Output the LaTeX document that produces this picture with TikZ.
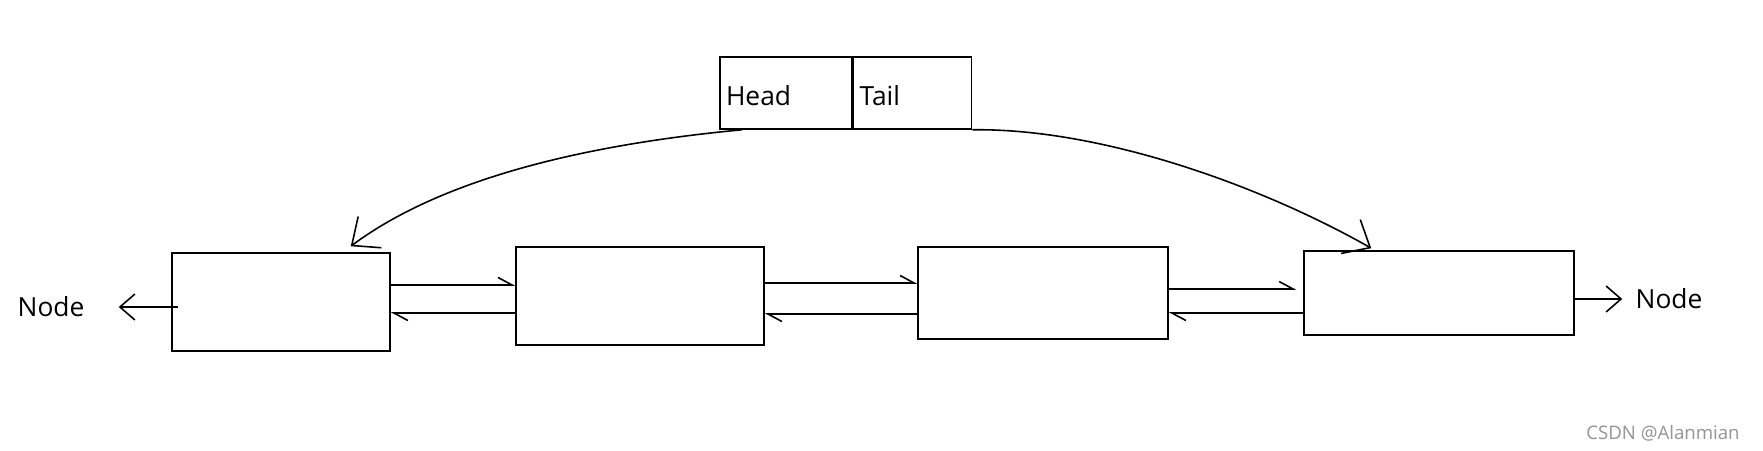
\documentclass[tikz,border=0pt]{standalone}
\usepackage{fontspec}
\setmainfont{Open Sans}
\usetikzlibrary{arrows.meta,calc}

\begin{document}
\begin{tikzpicture}[x=0.02cm, y=-0.02cm,
    cell/.style={rectangle, draw=black, line width=0.9pt, inner sep=0pt},
    part/.style={rectangle, draw=black, line width=0.9pt, minimum height=1.44cm,
                 inner xsep=0.12cm, text height=0.5cm, text depth=0pt,
                 align=left, font=\fontsize{15}{18}\selectfont},
    lbl/.style={font=\fontsize{15}{18}\selectfont, inner sep=0pt},
    link/.style={line width=0.9pt, -{Straight Barb[left, length=0.28cm, width=0.3cm]}},
    ptr/.style={line width=0.9pt, -{Straight Barb[length=0.45cm, width=0.78cm]}},
    endarr/.style={line width=0.9pt, -{Straight Barb[length=0.3cm, width=0.52cm]}}
]
    \useasboundingbox (0,0) rectangle (1763,450);

    % List cells
    \node[cell, minimum width=4.36cm, minimum height=1.96cm] (b1) at (281,302) {};
    \node[cell, minimum width=4.96cm, minimum height=1.96cm] (b2) at (640,296) {};
    \node[cell, minimum width=5.00cm, minimum height=1.84cm] (b3) at (1043,293) {};
    \node[cell, minimum width=5.40cm, minimum height=1.68cm] (b4) at (1439,293) {};

    % Head / Tail record
    \node[part, text width=2.4cm] (head) at (786,93) {Head};
    \node[part, text width=2.12cm, anchor=west] (tail) at (head.east) {Tail};

    \node[lbl] (nl) at (51,307) {Node};
    \node[lbl] (nr) at (1669,299) {Node};

    % next / prev links
    \draw[link] (b1.east |- 0,285) -- (b2.west |- 0,285);
    \draw[link] (b2.west |- 0,313) -- (b1.east |- 0,313);
    \draw[link] (b2.east |- 0,283) -- (b3.west |- 0,283);
    \draw[link] (b3.west |- 0,314) -- (b2.east |- 0,314);
    \draw[link, shorten >=0.14cm] (b3.east |- 0,289) -- (b4.west |- 0,289);
    \draw[link] (b4.west |- 0,313) -- (b3.east |- 0,313);

    % outer ends
    \draw[endarr, shorten >=0.68cm] ($(b1.west)+(7,5)$) -- (nl.east);
    \draw[endarr, shorten >=0.26cm] (b4.east |- nr.west) -- (nr.west);

    % head and tail pointers
    \draw[ptr] (head.south -| 742,0) .. controls (580,145) and (440,180) .. ($(b1.north east)+(-40,-6)$);
    \draw[ptr] (tail.south east) .. controls (1100,128) and (1260,185) .. ($(b4.north west)+(68,-2)$);

    \node[font=\fontsize{10.6}{12}\selectfont, text=black!42] (mark) at (1663,433) {CSDN @Alanmian};
\end{tikzpicture}
\end{document}
